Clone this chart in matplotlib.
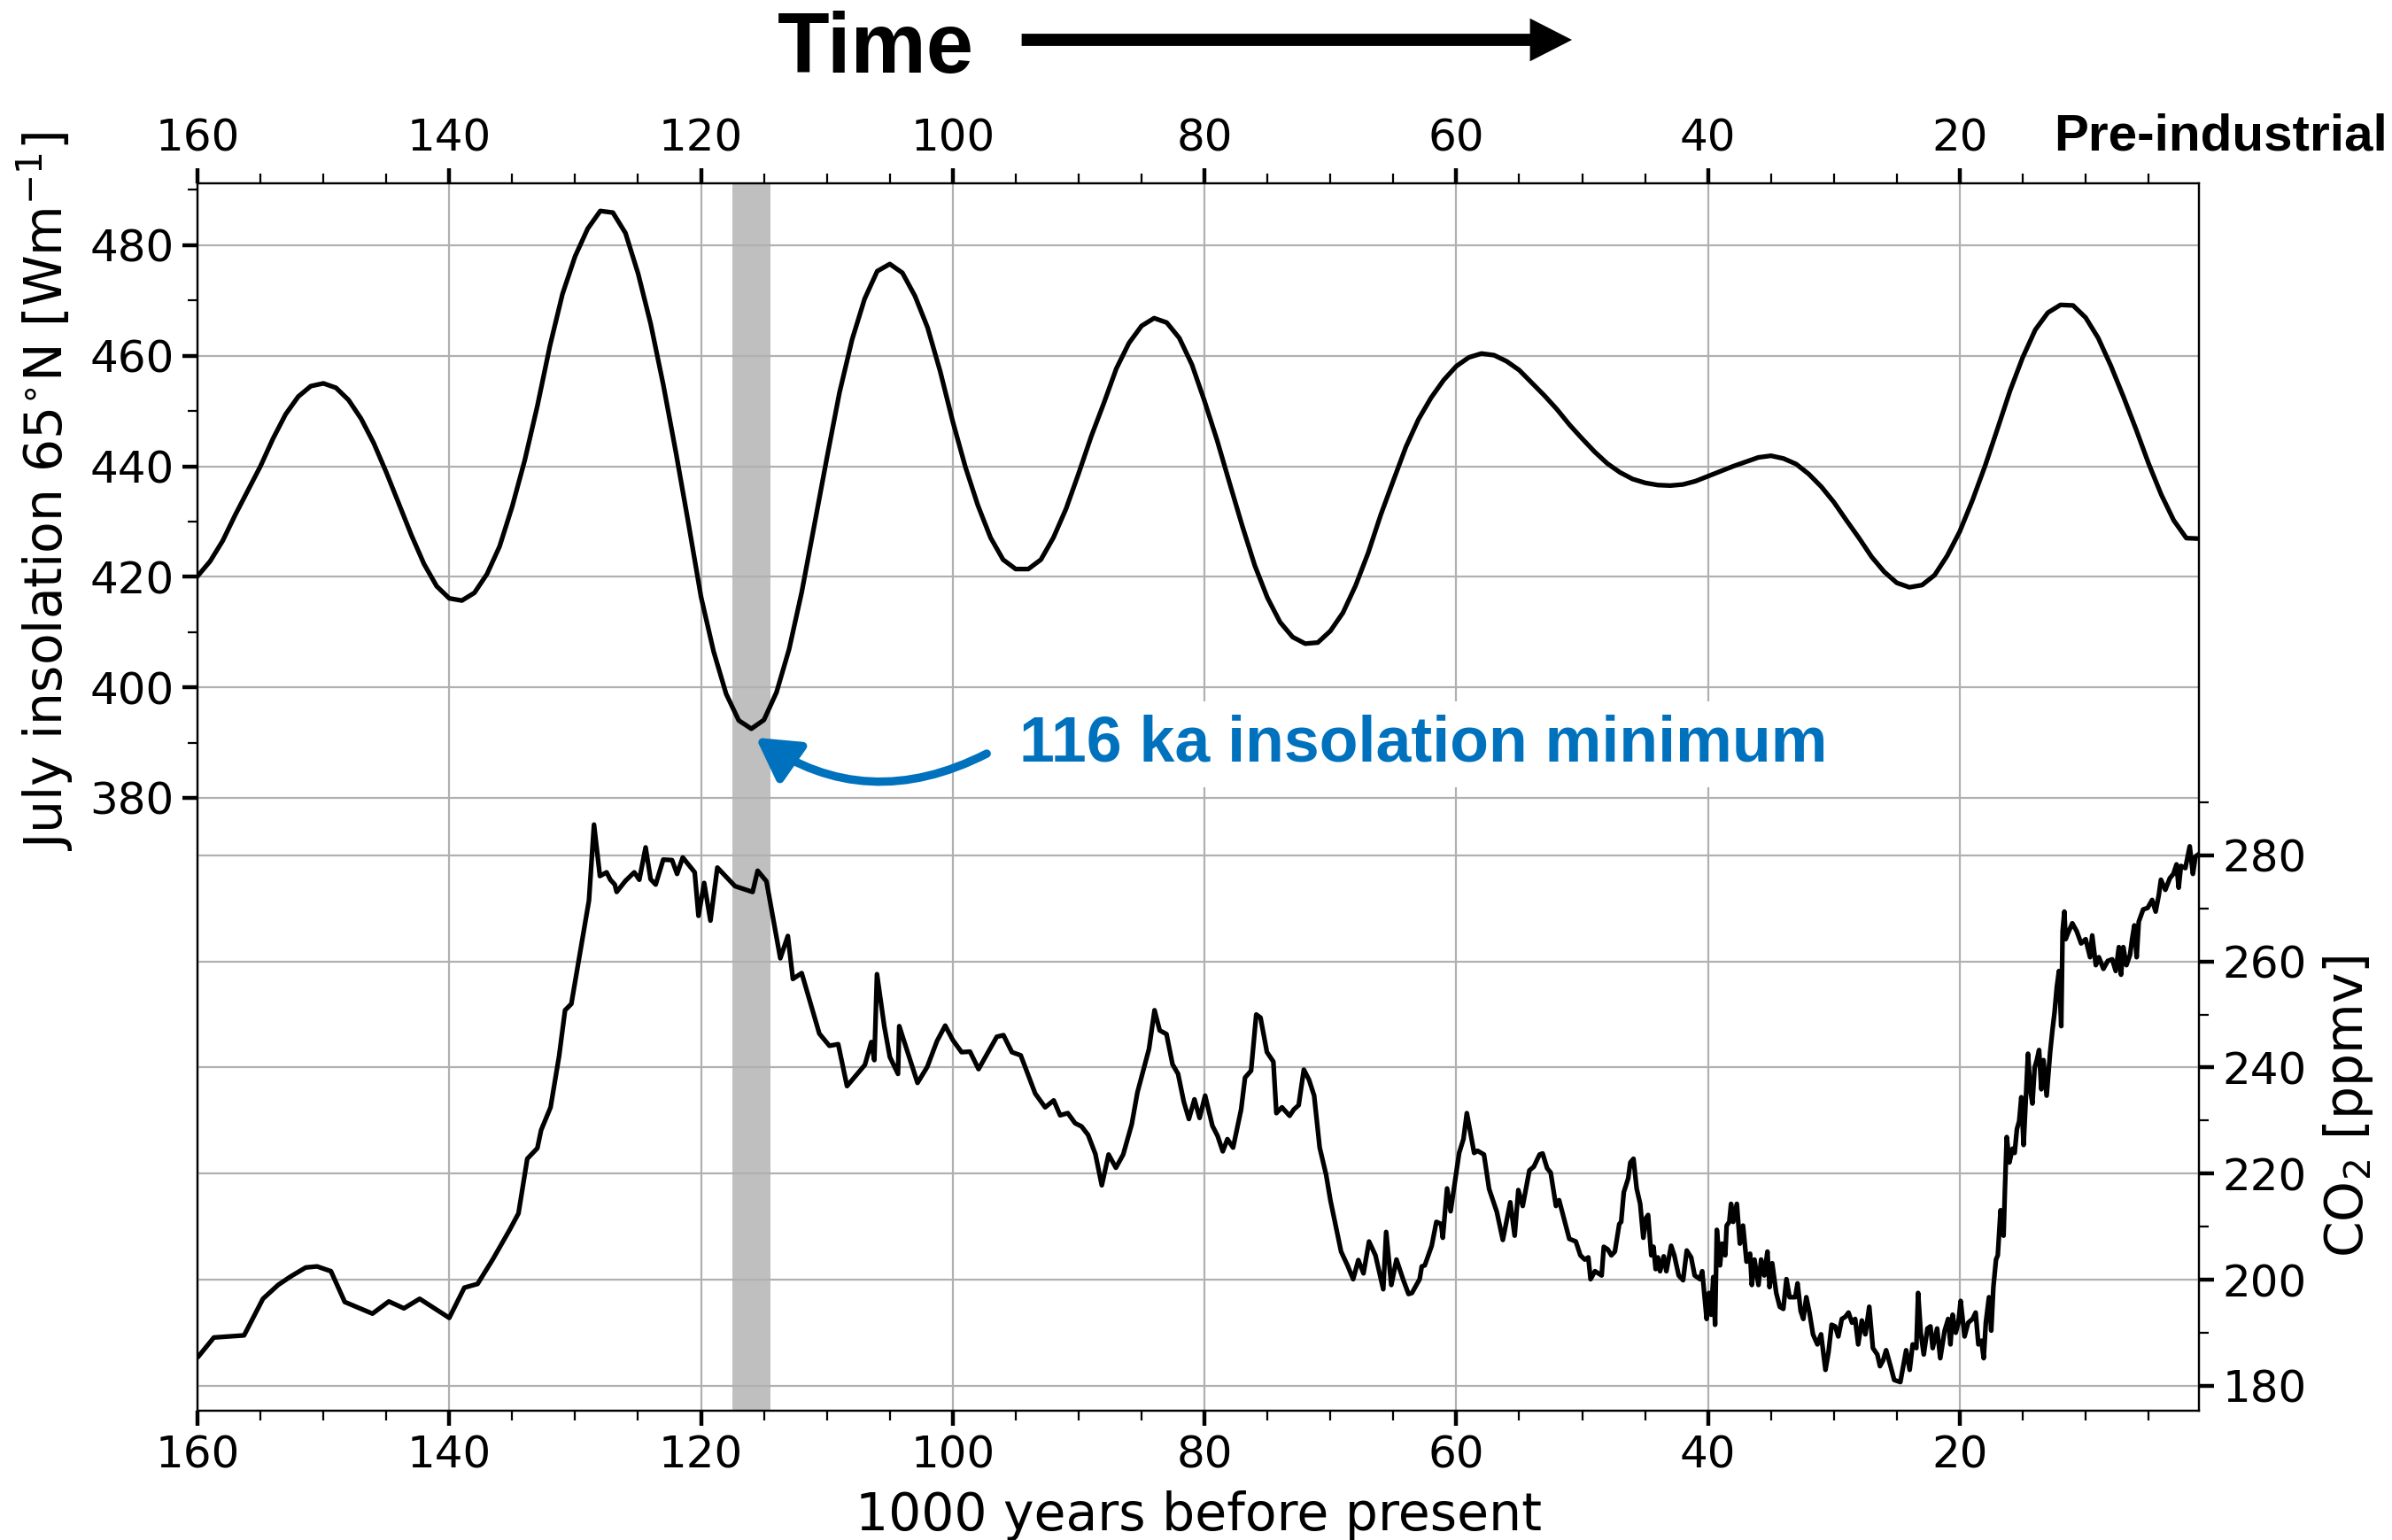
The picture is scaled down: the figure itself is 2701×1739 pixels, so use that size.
import numpy as np
import matplotlib
matplotlib.use("Agg")
import matplotlib.pyplot as plt
from matplotlib.ticker import FixedLocator
from matplotlib.patches import FancyArrow

# ---------------------------------------------------------------- data
# July insolation at 65N, one value per 1000 years (160 ka ... 1 ka)
insol_ka = np.arange(160, 0, -1)
insolation = [
    420.1, 422.8, 426.5, 431.2, 435.6, 440.0, 445.0, 449.4, 452.6, 454.5,
    455.0, 454.2, 452.0, 448.6, 444.2, 438.9, 433.2, 427.5, 422.3, 418.3,
    416.1, 415.7, 417.1, 420.5, 425.5, 432.7, 441.1, 450.9, 461.8, 471.2,
    478.0, 483.0, 486.2, 485.9, 482.2, 474.9, 465.8, 454.8, 442.6, 429.7,
    416.4, 406.5, 398.8, 394.0, 392.5, 394.1, 399.1, 406.9, 417.2, 429.3,
    441.5, 453.3, 462.9, 470.3, 475.3, 476.6, 475.0, 470.8, 465.1, 457.2,
    448.1, 439.9, 432.9, 427.1, 423.1, 421.4, 421.4, 423.1, 427.1, 432.3,
    438.7, 445.4, 451.4, 457.7, 462.3, 465.4, 466.8, 466.0, 463.2, 458.4,
    451.8, 444.7, 436.9, 429.2, 422.0, 416.2, 411.8, 409.1, 407.9, 408.1,
    410.2, 413.5, 418.4, 424.3, 431.2, 437.4, 443.5, 448.5, 452.4, 455.6,
    458.1, 459.7, 460.4, 460.1, 459.0, 457.4, 455.1, 452.8, 450.3, 447.5,
    445.0, 442.6, 440.5, 438.9, 437.7, 437.0, 436.6, 436.5, 436.7, 437.3,
    438.2, 439.1, 440.0, 440.8, 441.6, 441.9, 441.4, 440.4, 438.6, 436.3,
    433.5, 430.2, 427.0, 423.6, 420.9, 418.9, 418.1, 418.5, 420.3, 423.8,
    428.2, 433.8, 440.0, 446.8, 453.7, 459.7, 464.7, 467.8, 469.2, 469.1,
    466.9, 463.2, 458.2, 452.6, 446.7, 440.5, 434.9, 430.2, 427.0, 426.9,
]

# Ice-core CO2 (ka before present, ppmv)
co2_ka = [
    159.9, 158.7, 156.3, 154.8, 153.6, 152.6, 151.4, 150.5, 149.4, 148.3,
    146.1, 144.8, 143.6, 142.35, 140.0, 138.8, 137.75, 136.55, 135.2, 134.5,
    133.8, 133.0, 132.7, 131.95, 131.27, 130.8, 130.3, 128.9, 128.5, 128.03,
    127.5, 127.2, 126.85, 126.7, 126.0, 125.3, 124.9, 124.4, 124.0, 123.6,
    123.0, 122.3, 121.9, 121.45, 120.5, 120.2, 119.75, 119.25, 118.7, 117.3,
    115.9, 115.5, 114.8, 113.7, 113.1, 112.7, 112.0, 110.6, 109.8, 109.1,
    108.4, 106.98, 106.47, 106.23, 106.02, 105.44, 105.0, 104.35, 104.25, 102.8,
    102.03, 101.25, 100.6, 100.0, 99.3, 98.63, 97.95, 96.5, 95.97, 95.3,
    94.6, 93.45, 92.66, 91.98, 91.47, 90.86, 90.28, 89.77, 89.25, 88.67,
    88.16, 87.62, 87.04, 86.46, 85.78, 85.33, 84.41, 83.97, 83.56, 83.02,
    82.54, 82.1, 81.65, 81.24, 80.8, 80.39, 79.95, 79.37, 78.96, 78.55,
    78.18, 77.73, 77.09, 76.78, 76.3, 75.89, 75.55, 75.04, 74.53, 74.29,
    73.85, 73.24, 72.9, 72.52, 72.11, 71.7, 71.29, 70.85, 70.34, 70.0,
    69.15, 68.64, 68.19, 67.78, 67.37, 66.93, 66.42, 65.8, 65.57, 65.16,
    64.75, 64.2, 63.79, 63.52, 62.91, 62.74, 62.5, 61.95, 61.58, 61.2,
    61.07, 60.73, 60.45, 59.77, 59.43, 59.16, 58.58, 58.31, 57.8, 57.39,
    56.78, 56.3, 55.71, 55.36, 55.07, 54.72, 54.19, 53.84, 53.38, 53.14,
    52.78, 52.50, 52.08, 51.83, 51.02, 50.50, 50.14, 49.79, 49.51, 49.33,
    48.98, 48.45, 48.28, 47.96, 47.68, 47.40, 47.05, 46.90, 46.69, 46.34,
    46.17, 45.92, 45.67, 45.39, 45.14, 44.93, 44.76, 44.51, 44.33, 44.16,
    43.98, 43.81, 43.52, 43.31, 42.93, 42.68, 42.33, 41.98, 41.69, 41.34,
    41.06, 40.64, 40.46, 40.11, 39.93, 39.76, 39.58, 39.44, 39.30, 39.05,
    38.88, 38.63, 38.52, 38.31, 38.17, 38.00, 37.71, 37.47, 37.22, 36.94,
    36.66, 36.52, 36.31, 35.99, 35.78, 35.53, 35.28, 35.11, 34.90, 34.58,
    34.30, 34.02, 33.77, 33.52, 33.07, 32.89, 32.64, 32.43, 32.19, 31.94,
    31.66, 31.31, 31.02, 30.67, 30.43, 30.18, 29.90, 29.65, 29.37, 29.09,
    28.84, 28.56, 28.31, 28.07, 27.78, 27.50, 27.19, 26.90, 26.55, 26.34,
    26.09, 25.85, 25.50, 25.21, 24.72, 24.44, 24.26, 23.98, 23.74, 23.45,
    23.31, 23.10, 22.86, 22.57, 22.33, 22.15, 21.80, 21.55, 21.20, 20.92,
    20.74, 20.57, 20.32, 20.11, 19.93, 19.62, 19.33, 18.98, 18.74, 18.52,
    18.28, 18.10, 17.93, 17.68, 17.50, 17.33, 17.12, 16.98, 16.76, 16.52,
    16.41, 16.27, 16.06, 15.81, 15.64, 15.46, 15.28, 15.11, 14.93, 14.76,
    14.58, 14.40, 14.23, 14.05, 13.88, 13.70, 13.52, 13.35, 13.10, 12.82,
    12.64, 12.47, 12.29, 12.12, 11.94, 11.83, 11.69, 11.59, 11.41, 11.06,
    10.71, 10.36, 10.00, 9.65, 9.48, 9.19, 8.95, 8.59, 8.24, 7.89,
    7.61, 7.36, 7.19, 7.01, 6.76, 6.48, 6.31, 6.13, 5.95, 5.78,
    5.43, 5.07, 4.72, 4.44, 4.19, 4.02, 3.67, 3.31, 3.03, 2.78,
    2.61, 2.43, 2.08, 1.73, 1.48, 1.27, 1.02,
]
co2_ppmv = [
    185.6, 189.1, 189.5, 196.4, 199.0, 200.6, 202.3, 202.5, 201.6, 195.8,
    193.6, 195.9, 194.6, 196.4, 192.8, 198.5, 199.2, 203.8, 209.4, 212.5,
    222.8, 224.8, 228.2, 232.5, 242.2, 250.8, 252.0, 271.5, 285.8, 276.1,
    276.8, 275.4, 274.5, 273.1, 275.2, 276.8, 275.4, 281.5, 275.5, 274.5,
    279.2, 279.1, 276.5, 279.6, 276.8, 268.6, 274.8, 267.7, 277.7, 274.2,
    273.1, 277.1, 275.1, 260.6, 264.8, 256.7, 257.8, 246.4, 244.1, 244.4,
    236.5, 240.5, 244.8, 241.4, 257.6, 247.8, 242.0, 238.8, 247.8, 237.1,
    240.1, 245.0, 247.9, 245.2, 242.9, 243.0, 239.7, 245.8, 246.1, 242.9,
    242.3, 235.1, 232.5, 233.8, 231.0, 231.4, 229.5, 228.9, 227.3, 223.7,
    217.8, 223.6, 221.1, 223.6, 229.3, 235.3, 243.5, 250.8, 247.0, 246.3,
    240.6, 238.8, 233.6, 230.3, 234.0, 230.5, 234.7, 229.0, 227.1, 224.2,
    226.5, 224.9, 232.1, 238.1, 239.4, 250.0, 249.4, 242.9, 241.1, 231.4,
    232.5, 230.9, 232.1, 232.9, 239.6, 237.7, 234.7, 224.9, 219.8, 215.0,
    205.3, 202.7, 200.1, 203.7, 201.2, 207.2, 204.6, 198.2, 209.0, 199.0,
    203.8, 199.9, 197.3, 197.5, 200.1, 202.5, 202.7, 206.4, 210.9, 210.5,
    207.9, 217.2, 212.9, 223.9, 226.5, 231.4, 223.9, 224.3, 223.6, 217.1,
    212.8, 207.5, 214.6, 208.3, 216.9, 213.9, 220.6, 221.3, 223.6, 223.8,
    221.0, 220.2, 213.9, 215.0, 207.7, 207.2, 204.6, 203.8, 204.2, 200.1,
    201.6, 200.8, 206.2, 205.7, 204.6, 205.3, 210.5, 210.9, 216.5, 219.1,
    222.1, 222.8, 217.2, 214.3, 207.9, 211.6, 212.2, 204.6, 206.2, 202.0,
    204.2, 201.6, 204.4, 201.6, 206.4, 204.6, 200.8, 199.9, 205.5, 204.2,
    200.8, 200.1, 201.6, 192.6, 197.5, 193.4, 200.5, 191.5, 209.4, 202.7,
    206.8, 204.6, 210.2, 210.9, 214.3, 210.9, 214.3, 206.8, 210.2, 203.4,
    204.9, 199.0, 203.8, 199.0, 203.8, 200.8, 205.3, 198.6, 203.1, 197.5,
    194.9, 194.5, 200.1, 196.7, 196.7, 199.3, 194.1, 192.6, 196.7, 193.8,
    189.7, 187.8, 189.7, 183.0, 186.3, 191.5, 191.2, 189.3, 192.6, 193.0,
    193.8, 191.9, 192.6, 187.8, 192.3, 189.7, 194.9, 187.1, 185.9, 183.7,
    184.8, 186.7, 183.7, 181.1, 180.7, 184.4, 186.7, 183.0, 187.8, 187.1,
    197.5, 190.0, 185.9, 190.8, 191.2, 187.1, 190.8, 185.2, 190.4, 192.6,
    187.8, 193.4, 190.0, 191.9, 196.0, 189.3, 191.9, 192.6, 193.8, 187.8,
    188.5, 185.2, 191.9, 196.7, 190.4, 198.6, 203.8, 204.6, 213.1, 208.3,
    217.2, 226.9, 222.1, 224.7, 223.9, 228.4, 229.9, 234.4, 225.4, 233.6,
    242.6, 235.9, 233.2, 240.0, 241.4, 243.3, 235.9, 241.4, 234.7, 242.9,
    247.0, 250.4, 255.2, 258.2, 247.8, 265.7, 269.4, 264.2, 265.3, 267.2,
    265.7, 263.4, 264.2, 260.8, 264.9, 259.3, 260.8, 258.6, 260.1, 260.4,
    258.2, 262.7, 257.5, 262.7, 259.3, 261.2, 264.2, 266.8, 260.8, 267.5,
    269.8, 270.1, 271.6, 269.4, 272.5, 275.4, 273.5, 275.7, 276.5, 278.3,
    273.9, 278.0, 277.6, 281.7, 276.5, 279.8, 280.2,
]

# axis ticks
x_major = [160, 140, 120, 100, 80, 60, 40, 20]
x_minor = [155, 150, 145, 135, 130, 125, 115, 110, 105, 95, 90, 85,
           75, 70, 65, 55, 50, 45, 35, 30, 25, 15, 10, 5]
insol_ticks = [380, 400, 420, 440, 460, 480]
insol_minor = [390, 410, 430, 450, 470, 490]
co2_ticks = [180, 200, 220, 240, 260, 280]
co2_minor = [190, 210, 230, 250, 270, 290]

# ---------------------------------------------------------------- style
BLUE = "#0072BD"
BOLD_FONT = ["Liberation Sans", "DejaVu Sans"]
plt.rcParams["font.family"] = ["DejaVu Sans"]
plt.rcParams["font.size"] = 18
plt.rcParams["axes.labelsize"] = 21
plt.rcParams["mathtext.fontset"] = "dejavusans"

W, H, DPI = 2701, 1739, 200
fig = plt.figure(figsize=(W / DPI, H / DPI), dpi=DPI)
ax = fig.add_axes([223 / W, 1 - 1593 / H, (2483 - 223) / W, (1593 - 207) / H])
ax2 = ax.twinx()

# shaded window around the insolation minimum
ax.axvspan(117.5, 114.5, color="#bfbfbf", lw=0, zorder=0.8)

ax.plot(insol_ka, insolation, color="black", lw=1.9, zorder=3)
ax2.plot(co2_ka, co2_ppmv, color="black", lw=1.9, zorder=3)

ax.set_xlim(160, 1)
ax.set_ylim(269.1, 491.2)
ax2.set_ylim(175.3, 406.7)

ax.xaxis.set_major_locator(FixedLocator(x_major))
ax.xaxis.set_minor_locator(FixedLocator(x_minor))
ax.yaxis.set_major_locator(FixedLocator(insol_ticks))
ax.yaxis.set_minor_locator(FixedLocator(insol_minor))
ax2.yaxis.set_major_locator(FixedLocator(co2_ticks))
ax2.yaxis.set_minor_locator(FixedLocator(co2_minor))

for a in (ax, ax2):
    a.tick_params(which="major", length=6, width=1.6, direction="out")
    a.tick_params(which="minor", length=4, width=0.8, direction="out")
ax.tick_params(axis="x", which="both", top=True, labeltop=True,
               bottom=True, labelbottom=True)

grid_kw = dict(color="#b0b0b0", lw=0.8)
ax.grid(True, which="major", **grid_kw)
ax2.grid(True, which="major", axis="y", **grid_kw)

ax.set_xlabel("1000 years before present")
ax.xaxis.set_label_coords(0.5, -0.065)
ax.set_ylabel("July insolation 65$^{\\circ}$N [Wm$^{-1}$]")
ax.yaxis.set_label_coords(-0.061, 0.749)
ax2.set_ylabel("CO$_2$ [ppmv]")
ax2.yaxis.set_label_coords(1.061, 0.248)

# annotation of the 116 ka minimum
ax2.text(94.74, 386.6, "116 ka insolation minimum", transform=ax.transData,
         ha="left", va="baseline", fontsize=25.8, fontweight="bold",
         family=BOLD_FONT, color=BLUE, zorder=5,
         bbox=dict(boxstyle="square,pad=0.2", facecolor="white",
                   edgecolor="none"))
ax2.annotate("", xy=(115.65, 390.9), xycoords=ax.transData,
             xytext=(97.3, 388.0), textcoords=ax.transData,
             arrowprops=dict(arrowstyle="-|>,head_length=0.42,head_width=0.24",
                             mutation_scale=34, color=BLUE, lw=3.4,
                             shrinkA=0, shrinkB=0,
                             connectionstyle="arc3,rad=-0.3"),
             zorder=6)

# time direction header
fig.text(878 / W, 1 - 82 / H, "Time", ha="left", va="baseline",
         fontsize=34.5, fontweight="bold", family=BOLD_FONT)
fig.add_artist(FancyArrow(1155 / DPI, (H - 45) / DPI, (1772 - 1155) / DPI, 0,
                          width=11 / DPI, head_width=44 / DPI,
                          head_length=43 / DPI, length_includes_head=True,
                          color="black", transform=fig.dpi_scale_trans))
fig.text(2319 / W, 1 - 169 / H, "Pre-industrial", ha="left", va="baseline",
         fontsize=21, fontweight="bold", family=BOLD_FONT)

fig.savefig("out.png", dpi=DPI)
